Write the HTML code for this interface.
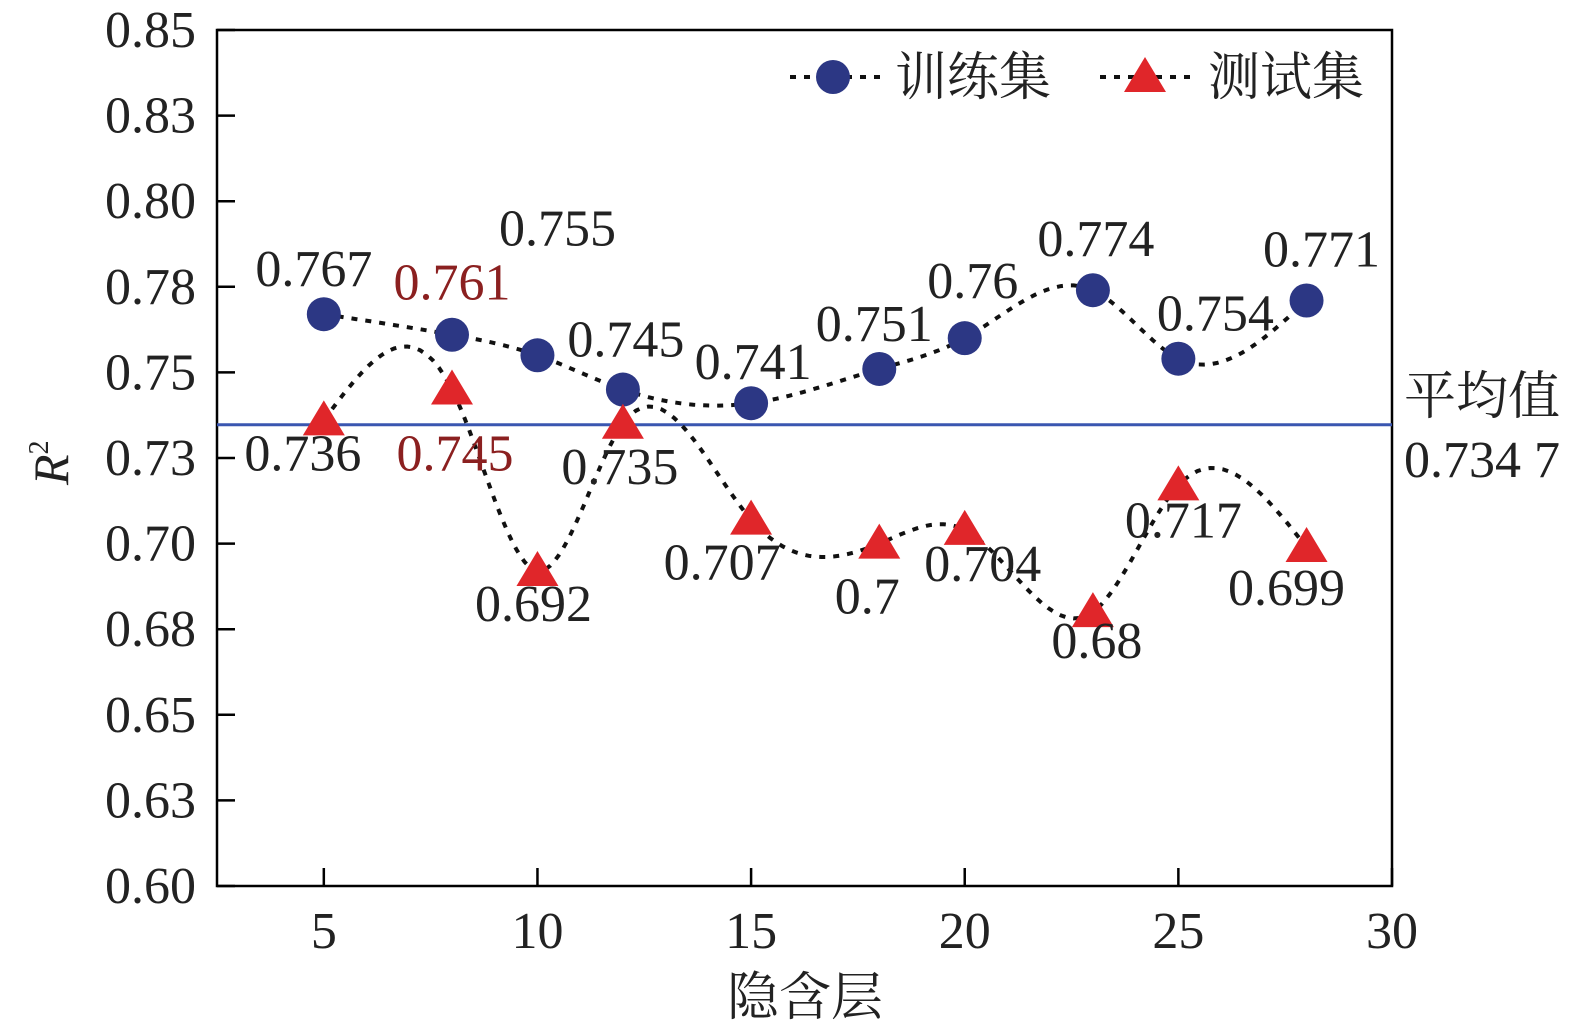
<!DOCTYPE html>
<html><head><meta charset="utf-8"><style>
body{margin:0;background:#fff}
svg text{font-family:"Liberation Serif","Noto Serif CJK SC",serif}
</style></head><body>
<svg id="c" width="1575" height="1030" xmlns="http://www.w3.org/2000/svg"></svg>
<script>
const xs=[5,8,10,12,15,18,20,23,25,28];
const train=[0.767,0.761,0.755,0.745,0.741,0.751,0.760,0.774,0.754,0.771];
const test=[0.736,0.745,0.692,0.735,0.707,0.700,0.704,0.680,0.717,0.699];
const trainLabels=["0.767","0.761","0.755","0.745","0.741","0.751","0.76","0.774","0.754","0.771"];
const testLabels=["0.736","0.745","0.692","0.735","0.707","0.7","0.704","0.68","0.717","0.699"];
const yTicks=[0.60,0.625,0.65,0.675,0.70,0.725,0.75,0.775,0.80,0.825,0.85];
const yTickLabels=["0.60","0.63","0.65","0.68","0.70","0.73","0.75","0.78","0.80","0.83","0.85"];
const xTicks=[5,10,15,20,25,30];
const meanVal=0.7347;
const trOff=[[-10,-28],[0,-35],[20,-110],[3,-33],[2,-24],[-5,-28],[8,-40],[3,-34],[37,-28],[15,-34]];
const teOff=[[-21,50],[3,81],[-4,50],[-3,60],[-29,60],[-12,70],[18,51],[4,46],[5,52],[-20,58]];
const S='http://www.w3.org/2000/svg',svg=document.getElementById('c');
const X=v=>217+(v-2.5)*(1175/27.5), Y=v=>30+(0.85-v)*3424;
function el(t,a,p){const e=document.createElementNS(S,t);for(const k in a)e.setAttribute(k,a[k]);(p||svg).appendChild(e);return e;}
function txt(s,x,y,a){const e=el('text',Object.assign({x,y,'font-size':52,fill:'#222'},a||{}));e.textContent=s;return e;}
function spline(x,y){const n=x.length,h=[],al=[],l=[1],mu=[0],z=[0],c=new Array(n).fill(0);
for(let i=0;i<n-1;i++)h.push(x[i+1]-x[i]);
for(let i=1;i<n-1;i++)al[i]=3/h[i]*(y[i+1]-y[i])-3/h[i-1]*(y[i]-y[i-1]);
for(let i=1;i<n-1;i++){l[i]=2*(x[i+1]-x[i-1])-h[i-1]*mu[i-1];mu[i]=h[i]/l[i];z[i]=(al[i]-h[i-1]*z[i-1])/l[i];}
const b=[],d=[];c[n-1]=0;for(let j=n-2;j>=1;j--)c[j]=z[j]-mu[j]*c[j+1];c[0]=0;
for(let j=0;j<n-1;j++){b[j]=(y[j+1]-y[j])/h[j]-h[j]*(c[j+1]+2*c[j])/3;d[j]=(c[j+1]-c[j])/(3*h[j]);}
let p='';for(let j=0;j<n-1;j++){for(let k=0;k<=20;k++){const t=h[j]*k/20,v=y[j]+b[j]*t+c[j]*t*t+d[j]*t*t*t;p+=(p?'L':'M')+X(x[j]+t).toFixed(1)+','+Y(v).toFixed(1);}}return p;}
el('rect',{x:217,y:30,width:1175,height:856,fill:'none',stroke:'#000','stroke-width':2.5,});
yTicks.forEach((v,i)=>{const t=el('line',{x1:217,x2:235,y1:Y(v),y2:Y(v),stroke:'#000','stroke-width':2.5});

const lb=txt(yTickLabels[i],196,Y(v)+17,{'text-anchor':'end'});
});
xTicks.forEach(v=>{const t=el('line',{x1:X(v),x2:X(v),y1:886,y2:868,stroke:'#000','stroke-width':2.5});

const lb=txt(String(v),X(v),948,{'text-anchor':'middle'});
});
const ml=el('line',{x1:217,x2:1392,y1:Y(meanVal),y2:Y(meanVal),stroke:'#3a56b0','stroke-width':3});

const ct=el('path',{d:spline(xs,train),fill:'none',stroke:'#111','stroke-width':4,'stroke-dasharray':'6,8'});

const ce=el('path',{d:spline(xs,test),fill:'none',stroke:'#111','stroke-width':4,'stroke-dasharray':'6,8'});

function tri(cx,cy,p){return el('path',{d:`M${cx},${cy-20}L${cx+21},${cy+15}L${cx-21},${cy+15}Z`,fill:'#e0262a'},p);}
xs.forEach((x,i)=>{
const c=el('circle',{cx:X(x),cy:Y(train[i]),r:17,fill:'#2c3784'});

const t=tri(X(x),Y(test[i]));

const a=txt(trainLabels[i],X(x)+trOff[i][0],Y(train[i])+trOff[i][1],{'text-anchor':'middle',fill:i==1?'#8b2020':'#222'});

const b=txt(testLabels[i],X(x)+teOff[i][0],Y(test[i])+teOff[i][1],{'text-anchor':'middle',fill:i==1?'#8b2020':'#222'});

});
const lg=el('g',{});
el('line',{x1:790,x2:880,y1:77,y2:77,stroke:'#111','stroke-width':4,'stroke-dasharray':'6,8'},lg);
el('circle',{cx:833,cy:77,r:17,fill:'#2c3784'},lg);
const l1=txt('训练集',895,95,{}); lg.appendChild(l1);
el('line',{x1:1100,x2:1190,y1:77,y2:77,stroke:'#111','stroke-width':4,'stroke-dasharray':'6,8'},lg);
tri(1145,77,lg);
const l2=txt('测试集',1208,95,{}); lg.appendChild(l2);
const m1=txt('平均值',1404,414,{});
const m2=txt('0.734 7',1404,477,{});
const yt=el('text',{x:0,y:0,'font-size':50,fill:'#222','font-style':'italic',transform:'translate(68,485) rotate(-90)'});
yt.innerHTML='R<tspan font-size="28" dy="-20" font-style="normal">2</tspan>';

const xt=txt('隐含层',805,1015,{'text-anchor':'middle'});

</script>
</body></html>
